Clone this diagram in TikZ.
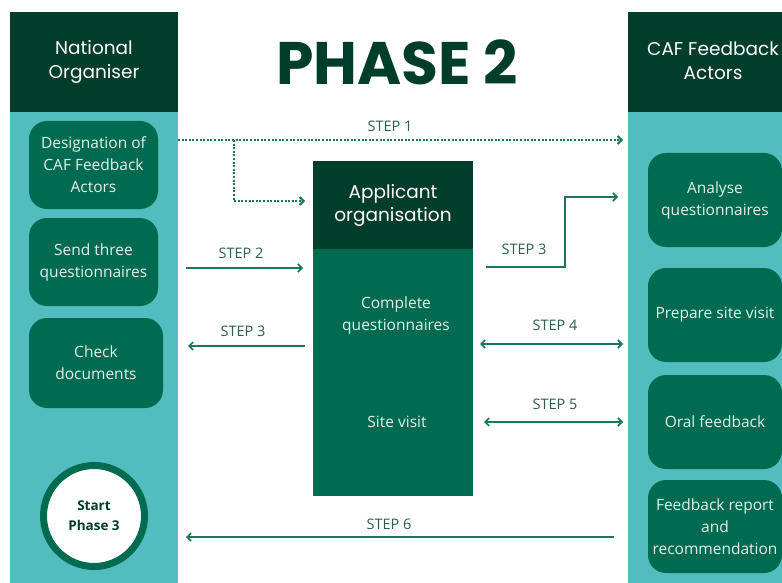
\documentclass[tikz,border=0pt]{standalone}
\usepackage{fontspec}
\setmainfont{Open Sans}
\newfontfamily\headfont{Poppins}
\usetikzlibrary{arrows.meta}
\definecolor{darkgreen}{HTML}{003D2B}
\definecolor{midgreen}{HTML}{006B50}
\definecolor{lightteal}{HTML}{52BDBE}
\definecolor{arrowgreen}{HTML}{1A765C}
\definecolor{labelgreen}{HTML}{2E5C4E}
\definecolor{boxtext}{HTML}{E4F1EB}
\tikzset{headbox/.style={shape=rectangle, fill=darkgreen, text=white, align=center, inner sep=0pt, font=\headfont\fontsize{18.5}{24}\selectfont},
stepbox/.style={shape=rectangle, rounded corners=18pt, fill=midgreen, text=boxtext, align=center, inner sep=0pt, minimum width=129pt, minimum height=88pt, font=\fontsize{15.5}{22}\selectfont},
actorbox/.style={stepbox, minimum width=134pt, minimum height=94pt},
steplabel/.style={text=labelgreen, font=\fontsize{14.5}{16}\selectfont},
flow/.style={draw=arrowgreen, line width=1.6pt, -{Straight Barb[length=4pt,width=8pt]}},
twoway/.style={flow, {Straight Barb[length=4pt,width=8pt]}-{Straight Barb[length=4pt,width=8pt]}},
dotflow/.style={flow, line width=2pt, dash pattern=on 2pt off 1.6pt}}

\begin{document}
\begin{tikzpicture}[x=1pt,y=-1pt]
\useasboundingbox (0,0) rectangle (782,583);
\fill[color=lightteal] (10,112) rectangle (178,583);
\fill[color=lightteal] (628,112) rectangle (782,583);
\node[headbox, minimum width=168pt, minimum height=100pt] (organiser) at (94,62) {National\\Organiser};
\node[headbox, minimum width=154pt, minimum height=100pt] (actors) at (705,62) {};
\node[text=white, align=center, font=\headfont\fontsize{18.5}{24}\selectfont] (actorstext) at (713,61) {CAF Feedback\\Actors};
\node[text=darkgreen, font=\headfont\bfseries\fontsize{60}{62}\selectfont] (title) at (397,62) {PHASE 2};
\node[stepbox] (design) at (93.5,165) {Designation of\\CAF Feedback\\Actors};
\node[stepbox] (send) at (93.5,262) {Send three\\questionnaires};
\node[stepbox, minimum width=134pt, minimum height=90pt] (check) at (96,363) {Check\\documents};
\node[shape=circle, draw=midgreen, line width=7pt, fill=white, minimum size=101pt, inner sep=0pt, align=center, text=darkgreen, font=\bfseries\fontsize{13.5}{20}\selectfont] (start) at (94,516) {Start\\Phase 3};
\node[headbox, minimum width=160pt, minimum height=88pt, font=\headfont\fontsize{18.5}{23}\selectfont] (applicant) at (393,205) {Applicant\\organisation};
\node[shape=rectangle, fill=midgreen, minimum width=160pt, minimum height=247pt, inner sep=0pt, anchor=north] (appbody) at (applicant.south) {};
\node[text=boxtext, align=center, font=\fontsize{15.5}{22}\selectfont] (complete) at (396,315) {Complete\\questionnaires};
\node[text=boxtext, font=\fontsize{15.5}{22}\selectfont] (visit) at (397,422) {Site visit};
\node[actorbox] (analyse) at (715,200) {Analyse\\questionnaires};
\node[actorbox] (prepare) at (715,315) {Prepare site visit};
\node[actorbox] (oral) at (715,422) {Oral feedback};
\node[actorbox, minimum height=93pt] (report) at (715,526.5) {Feedback report\\and\\recommendation};
\coordinate (s1a) at (178,140);
\coordinate (s1b) at (623,140);
\coordinate (s1c) at (234,140);
\coordinate (s1d) at (305,201);
\coordinate (s2a) at (186,268);
\coordinate (s2b) at (303,268);
\coordinate (s3a) at (305,346);
\coordinate (s3b) at (188,346);
\coordinate (s3c) at (486,267);
\coordinate (s3d) at (565,197);
\coordinate (s3e) at (618,197);
\coordinate (s4a) at (480,344);
\coordinate (s4b) at (623,344);
\coordinate (s5a) at (484,422);
\coordinate (s5b) at (623,422);
\coordinate (s6a) at (614,537);
\coordinate (s6b) at (186,537);
\draw[dotflow] (s1a) -- (s1b);
\draw[dotflow] (s1c) |- (s1d);
\draw[flow] (s2a) -- (s2b);
\draw[flow] (s3a) -- (s3b);
\draw[flow] (s3c) -| (s3d) -- (s3e);
\draw[twoway] (s4a) -- (s4b);
\draw[twoway] (s5a) -- (s5b);
\draw[flow] (s6a) -- (s6b);
\node[steplabel] (step1) at (390,126) {STEP 1};
\node[steplabel] (step2) at (241,253) {STEP 2};
\node[steplabel] (step3l) at (243,331) {STEP 3};
\node[steplabel] (step3r) at (524,249) {STEP 3};
\node[steplabel] (step4) at (555,325) {STEP 4};
\node[steplabel] (step5) at (555,404) {STEP 5};
\node[steplabel] (step6) at (389,524) {STEP 6};
\end{tikzpicture}
\end{document}
